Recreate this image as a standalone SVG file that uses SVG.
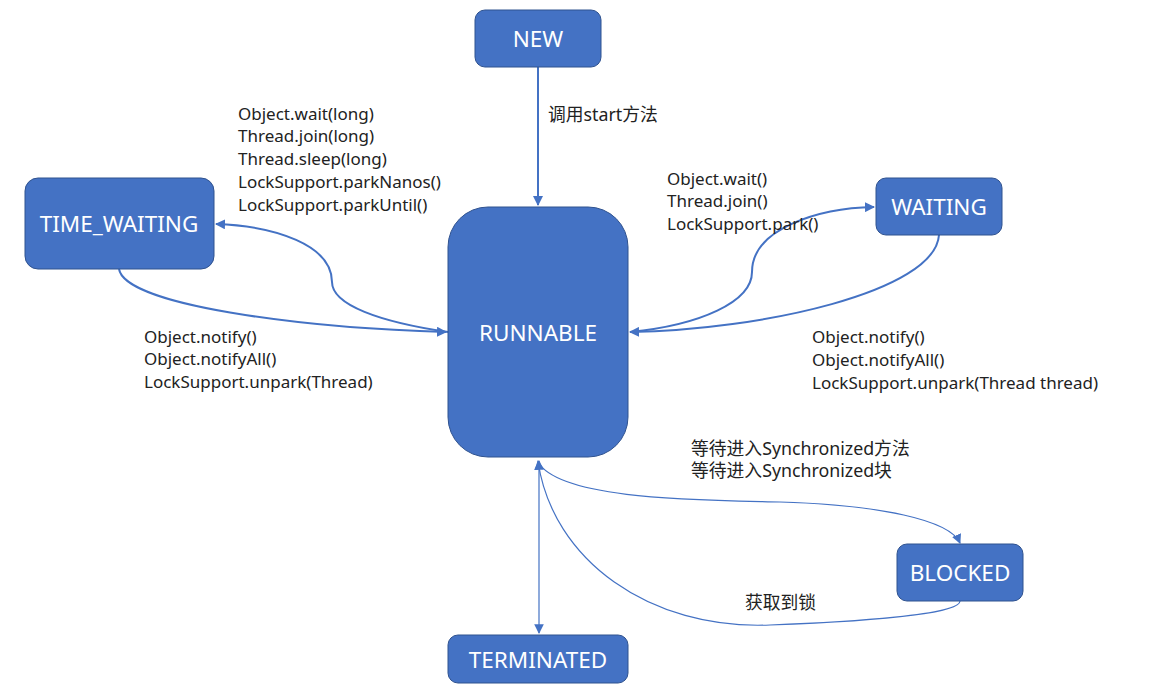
<svg xmlns="http://www.w3.org/2000/svg" width="1158" height="696" viewBox="0 0 1158 696">
<style>
.node{fill:#4472C4;stroke:#2F528F;stroke-width:1}
.nt{font-family:"Noto Sans","Noto Sans CJK SC","Liberation Sans",sans-serif;font-size:22.5px;fill:#fff;text-anchor:middle}
.lb{font-family:"Noto Sans","Noto Sans CJK SC","Liberation Sans",sans-serif;font-size:17px;fill:#222}
.cn{font-size:17.8px}
.c{fill:none;stroke:#4472C4;stroke-width:2}
.t{fill:none;stroke:#4472C4;stroke-width:1.2}
</style>
<defs>
<marker id="a" viewBox="0 0 10 10" refX="9" refY="5" markerWidth="5" markerHeight="5" orient="auto-start-reverse" markerUnits="strokeWidth">
<path d="M0,0 L10,5 L0,10 z" fill="#4472C4"/>
</marker>
<marker id="b" viewBox="0 0 10 10" refX="9" refY="5" markerWidth="8" markerHeight="8" orient="auto-start-reverse" markerUnits="strokeWidth">
<path d="M0,0 L10,5 L0,10 z" fill="#4472C4"/>
</marker>
</defs>
<rect width="1158" height="696" fill="#fff"/>
<g id="connectors">
<path class="c" d="M538,67 L538,205" marker-end="url(#a)"/>
<path class="c" d="M448,332 C380,322 332,305 332,282 C332,245 275,226 216,224" marker-end="url(#a)"/>
<path class="c" d="M119,269 C125,305 300,328 446,332" marker-end="url(#a)"/>
<path class="c" d="M630,332 C700,325 752,302 752,272 C752,228 820,208 874,207" marker-end="url(#a)"/>
<path class="c" d="M939,235 C935,292 760,330 630,332" marker-end="url(#a)"/>
<path class="t" d="M538,462 C560,500 700,500 780,502 C880,505 950,520 960,543" marker-end="url(#b)"/>
<path class="t" d="M960,601 C960,615 850,622 770,625 C650,630 552,560 538,461" marker-end="url(#b)"/>
<path class="t" d="M539,461 L539,633" marker-start="url(#b)" marker-end="url(#b)"/>
</g>
<g id="NEW"><rect class="node" x="475" y="10" width="126" height="57" rx="10"/><text class="nt" x="538" y="47">NEW</text></g>
<g id="RUNNABLE"><rect class="node" x="448" y="207" width="180" height="250" rx="40"/><text class="nt" x="538" y="341">RUNNABLE</text></g>
<g id="TIME_WAITING"><rect class="node" x="25" y="178" width="189" height="91" rx="13"/><text class="nt" x="119" y="232">TIME_WAITING</text></g>
<g id="WAITING"><rect class="node" x="876" y="178" width="126" height="57" rx="10"/><text class="nt" x="939" y="215">WAITING</text></g>
<g id="BLOCKED"><rect class="node" x="897" y="544" width="126" height="57" rx="10"/><text class="nt" x="960" y="581">BLOCKED</text></g>
<g id="TERMINATED"><rect class="node" x="448" y="635" width="180" height="48" rx="10"/><text class="nt" x="538" y="668">TERMINATED</text></g>
<g id="labels">
<text class="lb cn" x="548" y="121">调用start方法</text>
<text class="lb" x="238" y="120">Object.wait(long)</text>
<text class="lb" x="238" y="142">Thread.join(long)</text>
<text class="lb" x="238" y="165">Thread.sleep(long)</text>
<text class="lb" x="238" y="188">LockSupport.parkNanos()</text>
<text class="lb" x="238" y="211">LockSupport.parkUntil()</text>
<text class="lb" x="144" y="343">Object.notify()</text>
<text class="lb" x="144" y="365">Object.notifyAll()</text>
<text class="lb" x="144" y="388">LockSupport.unpark(Thread)</text>
<text class="lb" x="667" y="185">Object.wait()</text>
<text class="lb" x="667" y="207">Thread.join()</text>
<text class="lb" x="667" y="230">LockSupport.park()</text>
<text class="lb" x="812" y="343">Object.notify()</text>
<text class="lb" x="812" y="366">Object.notifyAll()</text>
<text class="lb" x="812" y="389">LockSupport.unpark(Thread thread)</text>
<text class="lb cn" x="691" y="455">等待进入Synchronized方法</text>
<text class="lb cn" x="691" y="477">等待进入Synchronized块</text>
<text class="lb cn" x="745" y="609">获取到锁</text>
</g>
</svg>
